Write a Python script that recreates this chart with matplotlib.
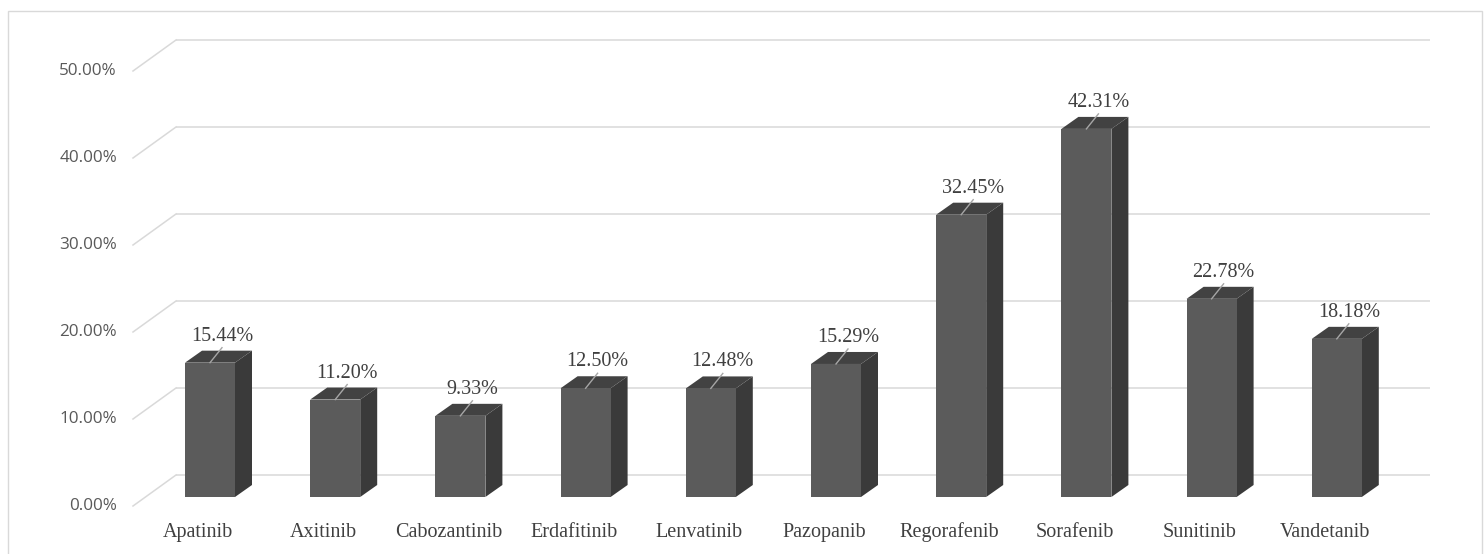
import matplotlib
matplotlib.use("Agg")
import matplotlib.pyplot as plt
from matplotlib.patches import Polygon, Rectangle

# Share of adverse events by drug (%)
drugs = ["Apatinib", "Axitinib", "Cabozantinib", "Erdafitinib", "Lenvatinib",
         "Pazopanib", "Regorafenib", "Sorafenib", "Sunitinib", "Vandetanib"]
rates = [15.44, 11.20, 9.33, 12.50, 12.48, 15.29, 32.45, 42.31, 22.78, 18.18]
y_ticks = [0, 10, 20, 30, 40, 50]
y_tick_labels = [f"{t:.2f}%" for t in y_ticks]

W, H = 1484, 554
CAT = 125.2     # pixels per category step
PCT = 8.7       # pixels per percentage point
X0, Y0 = 210, 497   # pixel position of the first bar centre / baseline

fig = plt.figure(figsize=(W / 100, H / 100), dpi=100)
ax = fig.add_axes([0, 0, 1, 1])
ax.set_xlim(-X0 / CAT, (W - X0) / CAT)
ax.set_ylim(-(H - Y0) / PCT, Y0 / PCT)
ax.axis("off")


def px_x(p):
    return p / CAT


def px_y(p):
    return p / PCT


# pseudo-3D geometry (pixel offsets relative to the bar front plane)
half_w = px_x(25)
depth_x, depth_y = px_x(17), px_y(12)
wall_back_left = px_x(176 - X0)
wall_back_right = px_x(1430 - X0)
wall_front_left = px_x(133 - X0)
wall_back_up = px_y(22)
wall_front_down = px_y(9)

grid_col = "#d9d9d9"
for t, lab in zip(y_ticks, y_tick_labels):
    yb = t + wall_back_up
    yf = t - wall_front_down
    ax.plot([wall_back_left, wall_back_right], [yb, yb], color=grid_col, lw=1.1,
            solid_capstyle="butt", zorder=1)
    ax.plot([wall_front_left, wall_back_left], [yf, yb], color=grid_col, lw=1.1,
            zorder=1)
    ax.text(wall_front_left - px_x(16), yf, lab, ha="right", va="center",
            fontsize=12.3, family="Open Sans", color="#595959")

front_col = "#5b5b5b"
side_col = "#3a3a3a"
top_col = "#424242"
for i, (name, v) in enumerate(zip(drugs, rates)):
    x0, x1 = i - half_w, i + half_w
    ax.add_patch(Polygon([(x1, 0), (x1 + depth_x, depth_y),
                          (x1 + depth_x, v + depth_y), (x1, v)],
                         closed=True, facecolor=side_col, edgecolor="none", zorder=3))
    ax.add_patch(Polygon([(x0, v), (x1, v), (x1 + depth_x, v + depth_y),
                          (x0 + depth_x, v + depth_y)],
                         closed=True, facecolor=top_col, edgecolor="none", zorder=3))
    ax.add_patch(Rectangle((x0, 0), x1 - x0, v, facecolor=front_col,
                           edgecolor="none", zorder=4))
    # leader line and value label
    ax.plot([i, i + px_x(12)], [v, v + px_y(15)], color="#a6a6a6", lw=1.0, zorder=5)
    ax.text(i + px_x(12), v + px_y(22), f"{v:.2f}%", ha="center", va="baseline",
            fontsize=14.5, family="Liberation Serif", color="#404040", zorder=6)
    ax.text(i - px_x(12), -px_y(40), name, ha="center", va="baseline",
            fontsize=14.5, family="Liberation Serif", color="#404040")

# outer chart border
fig.patches.append(Rectangle((8 / W, -0.02), (1482 - 8) / W, (H - 11) / H + 0.02,
                             transform=fig.transFigure, fill=False,
                             edgecolor="#d9d9d9", lw=1.0))

fig.savefig("out.png", dpi=100)
